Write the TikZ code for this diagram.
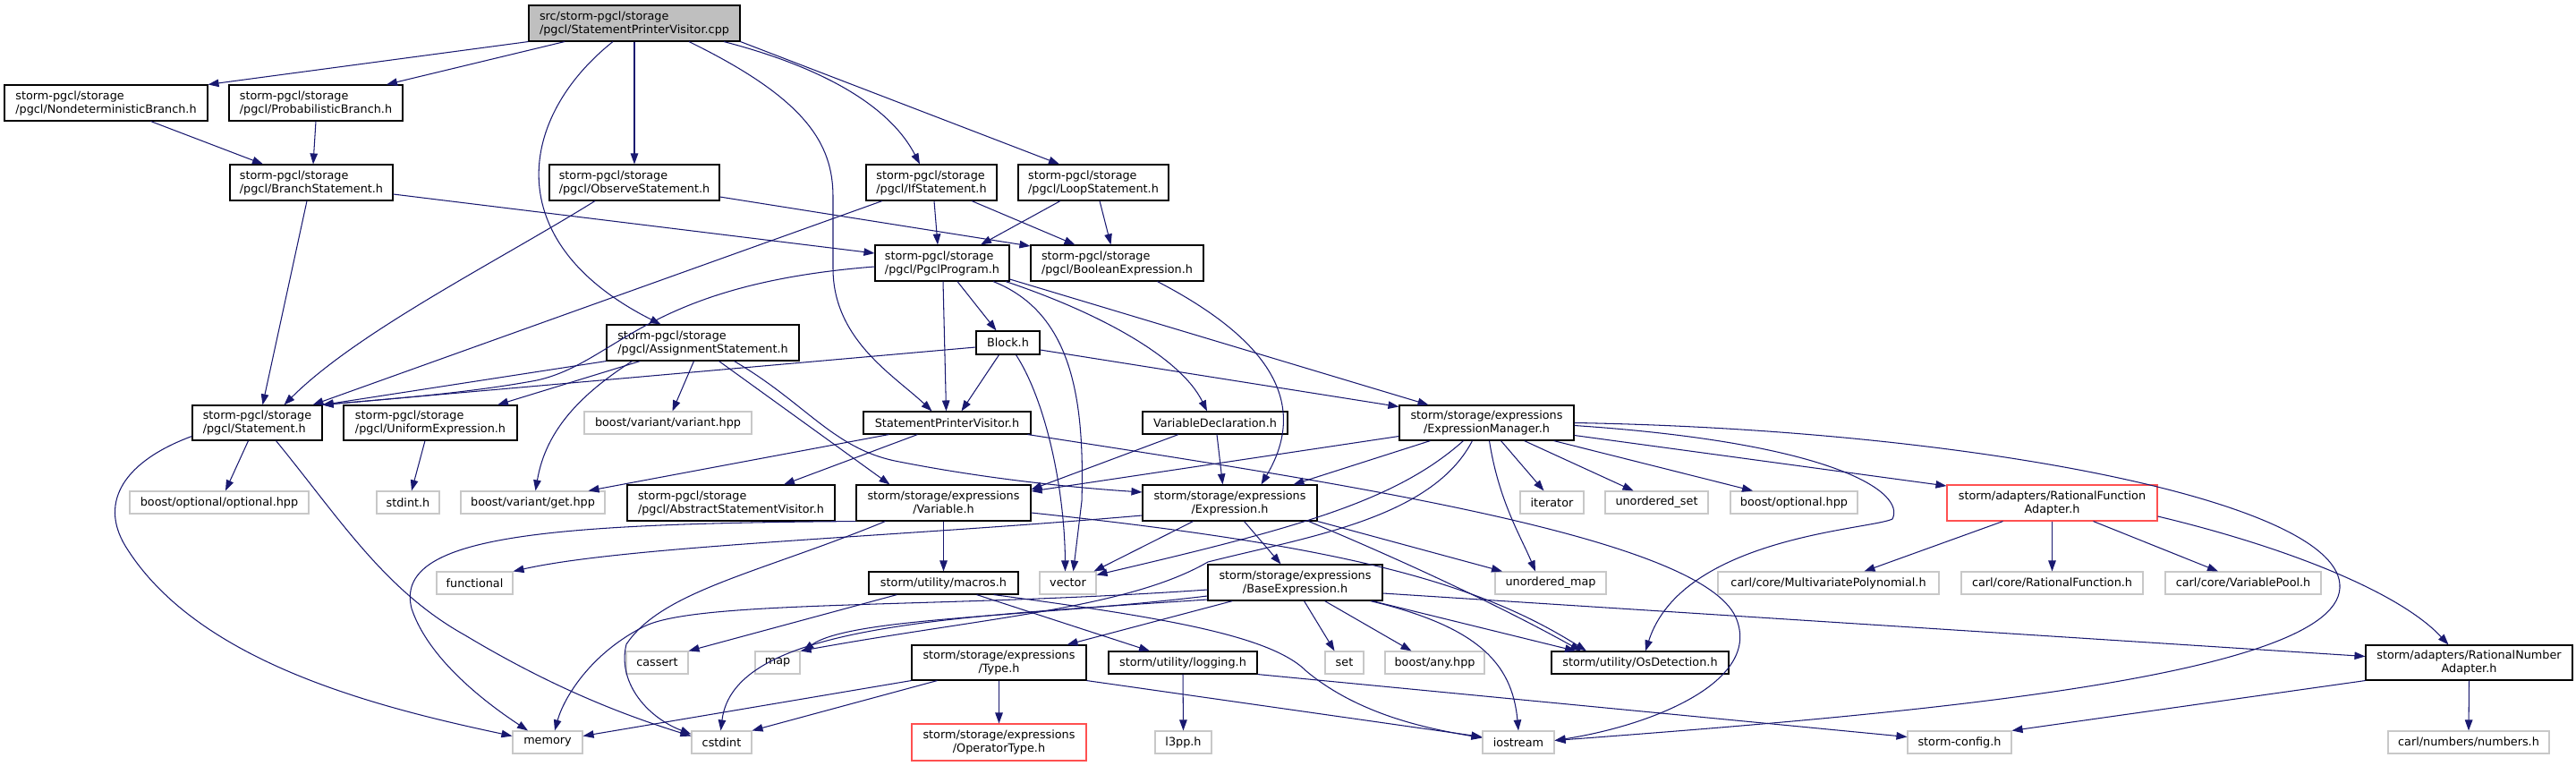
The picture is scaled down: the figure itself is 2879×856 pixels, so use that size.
\documentclass[tikz,border=0pt]{standalone}
\usepackage{fontspec}
\setmainfont{DejaVu Sans}
\usetikzlibrary{arrows.meta}
\definecolor{edgec}{RGB}{25,25,112}
\definecolor{extc}{RGB}{200,200,200}
\definecolor{topfill}{RGB}{191,191,191}
\definecolor{redc}{RGB}{255,80,80}
\begin{document}
\begin{tikzpicture}[x=1pt,y=-1pt,
  nbase/.style={line width=1.1pt, inner sep=0pt, font=\fontsize{12.8}{15}\selectfont, fill=white},
  hdr/.style={nbase, draw=black, align=left},
  chdr/.style={nbase, draw=black, align=center},
  sys/.style={nbase, draw=extc, align=center, minimum height=25pt},
  trunc/.style={draw=redc},
  dep/.style={draw=edgec, line width=1.05pt, -{Triangle[length=12pt,width=8.5pt]}}]
\useasboundingbox (0,0) rectangle (2879,856);
% ---------- nodes ----------
\node[hdr,fill=topfill,minimum width=236pt,minimum height=40pt] (TOP) at (709,26) {src/storm-pgcl/storage\\/pgcl/StatementPrinterVisitor.cpp};
\node[hdr,minimum width=227pt,minimum height=40pt] (ND) at (118.5,115) {storm-pgcl/storage\\/pgcl/NondeterministicBranch.h};
\node[hdr,minimum width=194pt,minimum height=40pt] (PB) at (353,115) {storm-pgcl/storage\\/pgcl/ProbabilisticBranch.h};
\node[hdr,minimum width=182pt,minimum height=40pt] (BS) at (348,204) {storm-pgcl/storage\\/pgcl/BranchStatement.h};
\node[hdr,minimum width=190pt,minimum height=40pt] (OS) at (709,204) {storm-pgcl/storage\\/pgcl/ObserveStatement.h};
\node[hdr,minimum width=146pt,minimum height=40pt] (IF) at (1041,204) {storm-pgcl/storage\\/pgcl/IfStatement.h};
\node[hdr,minimum width=168pt,minimum height=40pt] (LS) at (1222,204) {storm-pgcl/storage\\/pgcl/LoopStatement.h};
\node[hdr,minimum width=150pt,minimum height=40pt] (PP) at (1053,294) {storm-pgcl/storage\\/pgcl/PgclProgram.h};
\node[hdr,minimum width=193pt,minimum height=40pt] (BE) at (1248.5,294) {storm-pgcl/storage\\/pgcl/BooleanExpression.h};
\node[hdr,minimum width=215pt,minimum height=40pt] (AS) at (785.5,383) {storm-pgcl/storage\\/pgcl/AssignmentStatement.h};
\node[hdr,minimum width=145pt,minimum height=39pt] (ST) at (287.5,472.5) {storm-pgcl/storage\\/pgcl/Statement.h};
\node[hdr,minimum width=194pt,minimum height=39pt] (UE) at (481,472.5) {storm-pgcl/storage\\/pgcl/UniformExpression.h};
\node[hdr,minimum width=232pt,minimum height=40pt] (ASV) at (817,562) {storm-pgcl/storage\\/pgcl/AbstractStatementVisitor.h};
\node[chdr,minimum width=187pt,minimum height=25pt] (SPV) at (1058.5,472.5) {StatementPrinterVisitor.h};
\node[chdr,minimum width=71pt,minimum height=26pt] (BLK) at (1126.5,383) {Block.h};
\node[chdr,minimum width=162pt,minimum height=25pt] (VD) at (1358,472.5) {VariableDeclaration.h};
\node[chdr,minimum width=195pt,minimum height=40pt] (VARH) at (1054.5,562) {storm/storage/expressions\\/Variable.h};
\node[chdr,minimum width=195pt,minimum height=40pt] (EXP) at (1374.5,562) {storm/storage/expressions\\/Expression.h};
\node[chdr,minimum width=195pt,minimum height=39pt] (EM) at (1661.5,472.5) {storm/storage/expressions\\/ExpressionManager.h};
\node[chdr,trunc,minimum width=235pt,minimum height=40pt] (RFA) at (2293.5,562) {storm/adapters/RationalFunction\\Adapter.h};
\node[chdr,minimum width=167pt,minimum height=25pt] (MAC) at (1054.5,651.5) {storm/utility/macros.h};
\node[chdr,minimum width=195pt,minimum height=40pt] (BASE) at (1447.5,651) {storm/storage/expressions\\/BaseExpression.h};
\node[chdr,minimum width=195pt,minimum height=39pt] (TYPE) at (1116.5,740.5) {storm/storage/expressions\\/Type.h};
\node[chdr,minimum width=166pt,minimum height=25pt] (LOG) at (1322,740.5) {storm/utility/logging.h};
\node[chdr,minimum width=198pt,minimum height=25pt] (OSD) at (1833,740.5) {storm/utility/OsDetection.h};
\node[chdr,trunc,minimum width=195pt,minimum height=41pt] (OPTY) at (1116.5,829.5) {storm/storage/expressions\\/OperatorType.h};
\node[chdr,minimum width=231pt,minimum height=39pt] (RNA) at (2759.5,740.5) {storm/adapters/RationalNumber\\Adapter.h};
\node[sys,minimum width=200pt] (OPT) at (245,561.5) {boost/optional/optional.hpp};
\node[sys,minimum width=70pt] (STDINT) at (456,561.5) {stdint.h};
\node[sys,minimum width=161pt] (GET) at (595.5,561.5) {boost/variant/get.hpp};
\node[sys,minimum width=187pt] (VAR) at (746.5,472.5) {boost/variant/variant.hpp};
\node[sys,minimum width=71pt] (ITER) at (1734.5,561.5) {iterator};
\node[sys,minimum width=115pt] (USET) at (1851.5,561.5) {unordered\_set};
\node[sys,minimum width=142pt] (BOPT) at (2005,561.5) {boost/optional.hpp};
\node[sys,minimum width=85pt] (FUNC) at (530.5,651.5) {functional};
\node[sys,minimum width=78pt] (MEM) at (612,829.5) {memory};
\node[sys,minimum width=69pt] (CAS) at (734.5,740.5) {cassert};
\node[sys,minimum width=63pt] (VEC) at (1193.5,651.5) {vector};
\node[sys,minimum width=50pt] (MAP) at (869,740.5) {map};
\node[sys,minimum width=67pt] (CSTD) at (806.5,829.5) {cstdint};
\node[sys,minimum width=63pt] (L3PP) at (1322.5,829.5) {l3pp.h};
\node[sys,minimum width=124pt] (UMAP) at (1733,651.5) {unordered\_map};
\node[sys,minimum width=247pt] (MVP) at (2043.5,651.5) {carl/core/MultivariatePolynomial.h};
\node[sys,minimum width=43pt] (SET) at (1502.5,740.5) {set};
\node[sys,minimum width=111pt] (ANY) at (1603.5,740.5) {boost/any.hpp};
\node[sys,minimum width=80pt] (IOS) at (1697,829.5) {iostream};
\node[sys,minimum width=116pt] (SCONF) at (2190,829.5) {storm-config.h};
\node[sys,minimum width=203pt] (RF) at (2293.5,651.5) {carl/core/RationalFunction.h};
\node[sys,minimum width=174pt] (VP) at (2507,651.5) {carl/core/VariablePool.h};
\node[sys,minimum width=180pt] (NUM) at (2759,829.5) {carl/numbers/numbers.h};
% ---------- edges ----------
\draw[dep] (TOP.south west) -- (ND.north east);
\draw[dep] ([xshift=-78pt]TOP.south) -- ([xshift=79pt]PB.north);
\draw[dep] (TOP.south) -- (OS.north);
\draw[dep] ([xshift=-24pt]TOP.south) .. controls (580,130) and (555,270) .. ([xshift=-47pt]AS.north);
\draw[dep] ([xshift=61pt]TOP.south) .. controls (900,110) and (931,160) .. (931,220) -- (931,300) .. controls (931,380) and (1000,420) .. ([xshift=-17pt]SPV.north);
\draw[dep] ([xshift=100pt]TOP.south) .. controls (900,70) and (990,110) .. ([xshift=-13pt]IF.north);
\draw[dep] (TOP.south east) -- ([xshift=-38pt]LS.north);
\draw[dep] ([xshift=50pt]ND.south) -- ([xshift=-54pt]BS.north);
\draw[dep] (PB.south) -- ([xshift=2pt]BS.north);
\draw[dep] ([xshift=-5pt]BS.south) -- ([xshift=6pt]ST.north);
\draw[dep] ([yshift=-13pt]BS.east) -- ([yshift=11pt]PP.west);
\draw[dep] ([xshift=-44pt]OS.south) .. controls (560,290) and (400,370) .. ([xshift=30pt]ST.north);
\draw[dep] ([yshift=-16pt]OS.east) -- ([yshift=19pt]BE.west);
\draw[dep] ([xshift=-55pt]IF.south) -- ([xshift=62pt]ST.north);
\draw[dep] ([xshift=3pt]IF.south) -- ([xshift=-5pt]PP.north);
\draw[dep] ([xshift=45pt]IF.south) -- ([xshift=-47pt]BE.north);
\draw[dep] ([xshift=-37pt]LS.south) -- ([xshift=43pt]PP.north);
\draw[dep] ([xshift=7pt]LS.south) -- ([xshift=-7pt]BE.north);
\draw[dep] ([yshift=-4pt]PP.west) .. controls (720,318) and (690,405) .. (600,425) .. controls (520,440) and (420,447) .. (ST.north east);
\draw[dep] ([xshift=1pt]PP.south) -- ([xshift=-1pt]SPV.north);
\draw[dep] ([xshift=17pt]PP.south) -- ([xshift=-13pt]BLK.north);
\draw[dep] ([xshift=57pt]PP.south) .. controls (1200,350) and (1212,450) .. (1209,560) -- ([xshift=6pt]VEC.north);
\draw[dep] ([xshift=71pt]PP.south) .. controls (1230,350) and (1320,400) .. ([xshift=-9pt]VD.north);
\draw[dep] ([yshift=-18pt]PP.east) -- ([xshift=-65pt]EM.north);
\draw[dep] ([xshift=45pt]BE.south) .. controls (1400,370) and (1470,440) .. ([xshift=35pt]EXP.north);
\draw[dep] (AS.south west) -- (ST.north east);
\draw[dep] ([xshift=-70pt]AS.south) -- ([xshift=75pt]UE.north);
\draw[dep] ([xshift=-79pt]AS.south) .. controls (650,440) and (610,480) .. ([xshift=3pt]GET.north);
\draw[dep] ([xshift=-10pt]AS.south) -- ([xshift=5pt]VAR.north);
\draw[dep] ([xshift=18pt]AS.south) -- ([xshift=-60pt]VARH.north);
\draw[dep] ([xshift=35pt]AS.south) .. controls (900,450) and (930,500) .. (1000,515) .. controls (1100,535) and (1200,545) .. ([yshift=12pt]EXP.west);
\draw[dep] ([yshift=-5pt]BLK.west) -- (ST.north east);
\draw[dep] ([xshift=-10pt]BLK.south) -- ([xshift=16pt]SPV.north);
\draw[dep] ([xshift=9pt]BLK.south) .. controls (1170,450) and (1190,550) .. ([xshift=-3pt]VEC.north);
\draw[dep] ([yshift=-8pt]BLK.east) -- ([yshift=18pt]EM.west);
\draw[dep] ([xshift=-10pt]ST.south) -- ([xshift=7pt]OPT.north);
\draw[dep] ([yshift=-15pt]ST.west) .. controls (140,515) and (110,560) .. (140,610) .. controls (220,740) and (420,790) .. ([yshift=7pt]MEM.west);
\draw[dep] ([xshift=21pt]ST.south) .. controls (380,580) and (430,660) .. (520,710) .. controls (620,770) and (700,800) .. ([yshift=7pt]CSTD.west);
\draw[dep] ([xshift=-6pt]UE.south) -- ([xshift=4pt]STDINT.north);
\draw[dep] ([xshift=-65pt]SPV.south) -- ([xshift=62pt]GET.north);
\draw[dep] ([xshift=-33pt]SPV.south) -- ([xshift=59pt]ASV.north);
\draw[dep] ([xshift=90pt]SPV.south) .. controls (1500,540) and (1900,600) .. (1940,690) .. controls (1970,760) and (1850,810) .. ([yshift=2pt]IOS.east);
\draw[dep] ([xshift=-41pt]VD.south) -- ([yshift=15pt]VARH.east);
\draw[dep] ([xshift=2pt]VD.south) -- ([xshift=-8pt]EXP.north);
\draw[dep] ([yshift=-15pt]EM.west) -- ([yshift=13pt]VARH.east);
\draw[dep] ([xshift=-63pt]EM.south) -- ([xshift=71pt]EXP.north);
\draw[dep] ([xshift=-26pt]EM.south) .. controls (1560,560) and (1450,590) .. ([yshift=9pt]VEC.east);
\draw[dep] ([xshift=-16pt]EM.south) .. controls (1600,580) and (1460,600) .. (1350,628) .. controls (1260,680) and (1100,690) .. (MAP.north east);
\draw[dep] ([xshift=3pt]EM.south) .. controls (1675,560) and (1700,600) .. ([xshift=-17pt]UMAP.north);
\draw[dep] ([xshift=16pt]EM.south) -- ([xshift=-9pt]ITER.north);
\draw[dep] ([xshift=42pt]EM.south) -- ([xshift=-26pt]USET.north);
\draw[dep] ([xshift=75pt]EM.south) -- ([xshift=-46pt]BOPT.north);
\draw[dep] ([yshift=-14pt]EM.east) -- ([yshift=19pt]RFA.west);
\draw[dep] (EM.east) .. controls (2200,480) and (2620,560) .. (2615,657) .. controls (2610,760) and (2100,800) .. ([yshift=2pt]IOS.east);
\draw[dep] ([yshift=-3pt]EM.east) .. controls (2050,495) and (2130,550) .. (2115,580) .. controls (2090,592) and (1880,600) .. ([xshift=6pt]OSD.north);
\draw[dep] ([xshift=-55pt]RFA.south) -- ([xshift=40pt]MVP.north);
\draw[dep] (RFA.south) -- (RF.north);
\draw[dep] ([xshift=46pt]RFA.south) -- ([xshift=-28pt]VP.north);
\draw[dep] ([yshift=-15pt]RFA.east) .. controls (2550,610) and (2680,660) .. ([xshift=-23pt]RNA.north);
\draw[dep] (RNA.south west) -- (SCONF.north east);
\draw[dep] (RNA.south) -- (NUM.north);
\draw[dep] (VARH.south) -- (MAC.north);
\draw[dep] (VARH.south west) .. controls (600,585) and (440,600) .. (460,680) .. controls (480,740) and (550,790) .. ([xshift=-22pt]MEM.north);
\draw[dep] ([xshift=-65pt]VARH.south) .. controls (850,640) and (740,660) .. (700,720) .. controls (690,760) and (720,800) .. ([yshift=9pt]CSTD.west);
\draw[dep] ([yshift=-14pt]EXP.west) .. controls (1000,600) and (700,610) .. (FUNC.north east);
\draw[dep] ([yshift=-11pt]VARH.east) .. controls (1500,610) and (1650,650) .. ([xshift=-60pt]OSD.north);
\draw[dep] ([xshift=-10pt]EXP.south east) .. controls (1600,640) and (1700,690) .. ([xshift=-66pt]OSD.north);
\draw[dep] ([xshift=16pt]EXP.south) -- ([xshift=-16pt]BASE.north);
\draw[dep] ([xshift=-41pt]EXP.south) -- ([xshift=-3pt]VEC.north east);
\draw[dep] (EXP.south east) -- ([xshift=-54pt]UMAP.north);
\draw[dep] ([xshift=-70pt]BASE.south) -- ([xshift=76pt]TYPE.north);
\draw[dep] ([xshift=10pt]BASE.south) -- ([xshift=-11pt]SET.north);
\draw[dep] ([xshift=33pt]BASE.south) -- ([xshift=-26pt]ANY.north);
\draw[dep] ([xshift=86pt]BASE.south) -- ([xshift=-72pt]OSD.north);
\draw[dep] ([xshift=84pt]BASE.south) .. controls (1650,700) and (1690,740) .. (IOS.north);
\draw[dep] ([yshift=-12pt]BASE.east) -- ([yshift=7pt]RNA.west);
\draw[dep] ([yshift=-15pt]BASE.west) .. controls (1150,690) and (950,690) .. ([xshift=3pt]MAP.north east);
\draw[dep] ([yshift=-19pt]BASE.west) .. controls (1050,690) and (820,700) .. ([xshift=-1pt]CSTD.north);
\draw[dep] ([yshift=-8pt]BASE.west) .. controls (1050,680) and (780,670) .. (720,700) .. controls (660,730) and (630,780) .. ([xshift=8pt]MEM.north);
\draw[dep] (TYPE.south) -- (OPTY.north);
\draw[dep] ([xshift=-69pt]TYPE.south) -- (CSTD.north east);
\draw[dep] (TYPE.south west) -- ([yshift=7pt]MEM.east);
\draw[dep] (TYPE.south east) -- ([yshift=6pt]IOS.west);
\draw[dep] ([xshift=-52pt]MAC.south) -- (CAS.north east);
\draw[dep] ([xshift=37pt]MAC.south) -- ([xshift=-37pt]LOG.north);
\draw[dep] ([xshift=56pt]MAC.south) .. controls (1300,690) and (1420,710) .. (1460,750) .. controls (1520,800) and (1600,815) .. ([yshift=5pt]IOS.west);
\draw[dep] (LOG.south) -- (L3PP.north);
\draw[dep] (LOG.south east) -- ([yshift=6pt]SCONF.west);
\end{tikzpicture}
\end{document}
